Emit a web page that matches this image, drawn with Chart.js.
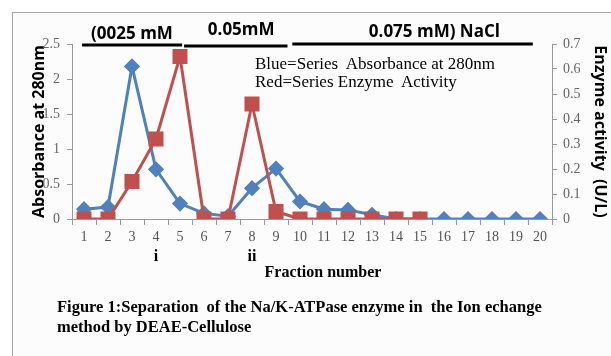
<!DOCTYPE html>
<html>
<head>
<meta charset="utf-8">
<script src="https://cdn.jsdelivr.net/npm/chart.js@4"></script>
<style>
    body { margin: 0; width: 611px; height: 356px; overflow: hidden; background: #fff; position: relative; }
    #frame { position: absolute; left: 12px; top: 12px; width: 700px; height: 400px; border: 1px solid #a6a6a6; background: #fcfcfc; }
    #box { position: absolute; left: 0; top: 0; width: 611px; height: 356px; }
    .note { position: absolute; font-family: "Liberation Serif", "Times New Roman", serif; color: #000; white-space: pre; }
    #legend { left: 255px; top: 55px; font-size: 17px; line-height: 18px; }
    #caption { left: 57px; top: 297px; font-size: 16.5px; font-weight: bold; line-height: 20px; }
</style>
</head>
<body>
<div id="frame"></div>
<div id="box"><canvas id="myChart" width="611" height="356"></canvas></div>
<div id="legend" class="note">Blue=Series  Absorbance at 280nm
Red=Series Enzyme  Activity</div>
<div id="caption" class="note">Figure 1:Separation  of the Na/K-ATPase enzyme in  the Ion echange
method by DEAE-Cellulose</div>
<script>
// fraction numbers on the x axis
const fractions = ["1", "2", "3", "4", "5", "6", "7", "8", "9", "10",
    "11", "12", "13", "14", "15", "16", "17", "18", "19", "20"];
// absorbance at 280nm (left axis)
const absorbance = [0.14, 0.17, 2.18, 0.71, 0.22, 0.08, 0.04, 0.44, 0.72, 0.25,
    0.14, 0.13, 0.06, 0, 0, 0, 0, 0, 0, 0];
// enzyme activity U/L (right axis), only measured for fractions 1-15
const activity = [0, 0, 0.15, 0.32, 0.65, 0, 0, 0.46, 0.03, 0, 0, 0, 0, 0, 0];
// NaCl steps written above the plot
const saltSteps = ["(0025 mM", "0.05mM", "0.075 mM) NaCl"];
// peak marks under the x axis
const peakNames = ["i", "ii"];
const peakFractions = ["4", "8"];

const sansBold = "bold 17px 'Open Sans', 'Liberation Sans', sans-serif";

// where each salt step sits, in fraction index units
const stepLayout = [
    { label: 2.0, labelY: 34, from: -0.08, to: 4.09, lineY: 45 },
    { label: 6.55, labelY: 30, from: 4.17, to: 8.48, lineY: 46 },
    { label: 14.6, labelY: 32, from: 8.68, to: 18.7, lineY: 44 }
];

const decorations = {
    id: "decorations",
    afterDraw(chart) {
        const ctx = chart.ctx;
        const x = chart.scales.x;
        ctx.save();
        ctx.fillStyle = "#000";
        ctx.strokeStyle = "#000";
        ctx.lineWidth = 3;
        ctx.textAlign = "center";
        ctx.textBaseline = "middle";
        ctx.font = sansBold;
        stepLayout.forEach((s, i) => {
            ctx.fillText(saltSteps[i], x.getPixelForValue(s.label), s.labelY);
            ctx.beginPath();
            ctx.moveTo(x.getPixelForValue(s.from), s.lineY);
            ctx.lineTo(x.getPixelForValue(s.to), s.lineY);
            ctx.stroke();
        });

        ctx.font = "bold 16px 'Liberation Serif', serif";
        peakNames.forEach((name, i) => {
            const idx = fractions.indexOf(peakFractions[i]);
            ctx.fillText(name, x.getPixelForValue(idx), 257);
        });
        ctx.fillText("Fraction number", 323, 273);
        ctx.restore();
    }
};

const tickFont = { family: "'Liberation Serif', serif", size: 14 };
const axisGrid = { drawOnChartArea: false, tickLength: 5, color: "#999" };
const plainNumber = (v) => String(Number(v.toFixed(2)));

new Chart(document.getElementById("myChart"), {
    type: "line",
    data: {
        labels: fractions,
        datasets: [{
            label: "Enzyme Activity",
            data: activity,
            yAxisID: "y1",
            order: 1,
            borderColor: "#c0504d",
            backgroundColor: "#c0504d",
            borderWidth: 3,
            pointStyle: "rect",
            pointRadius: 8.5,
            pointHoverRadius: 8.5,
            tension: 0
        }, {
            label: "Absorbance at 280nm",
            data: absorbance,
            yAxisID: "y",
            order: 2,
            borderColor: "#4f81bd",
            backgroundColor: "#4f81bd",
            borderWidth: 3,
            pointStyle: "rectRot",
            pointRadius: 6,
            pointHoverRadius: 6,
            tension: 0
        }]
    },
    options: {
        responsive: false,
        animation: false,
        layout: { padding: { top: 44, left: 0, right: 0, bottom: 0 } },
        plugins: { legend: { display: false }, tooltip: { enabled: false } },
        scales: {
            x: {
                offset: true,
                grid: { drawOnChartArea: false, offset: true, tickLength: 6, color: "#999" },
                border: { color: "#999" },
                ticks: { font: tickFont, color: "#555", padding: 4, maxRotation: 0 },
                afterFit: (s) => { s.height = 137; }
            },
            y: {
                position: "left",
                min: 0,
                max: 2.5,
                grid: axisGrid,
                border: { color: "#999" },
                ticks: { stepSize: 0.5, font: tickFont, color: "#666", padding: 7, callback: plainNumber },
                title: {
                    display: true,
                    text: "Absorbance at 280nm",
                    color: "#000",
                    font: { family: "'Open Sans', sans-serif", size: 16, weight: "bold" },
                    padding: { top: 30, bottom: 0 }
                },
                afterFit: (s) => { s.width = 72; }
            },
            y1: {
                position: "right",
                min: 0,
                max: 0.7,
                grid: axisGrid,
                border: { color: "#999" },
                ticks: { stepSize: 0.1, font: tickFont, color: "#666", padding: 6, callback: plainNumber },
                title: {
                    display: true,
                    text: "Enzyme activity  (U/L)",
                    color: "#000",
                    font: { family: "'Open Sans', sans-serif", size: 16, weight: "bold" },
                    padding: { top: 2, bottom: 0 }
                },
                afterFit: (s) => { s.width = 59; }
            }
        }
    },
    plugins: [decorations]
});
</script>
</body>
</html>
